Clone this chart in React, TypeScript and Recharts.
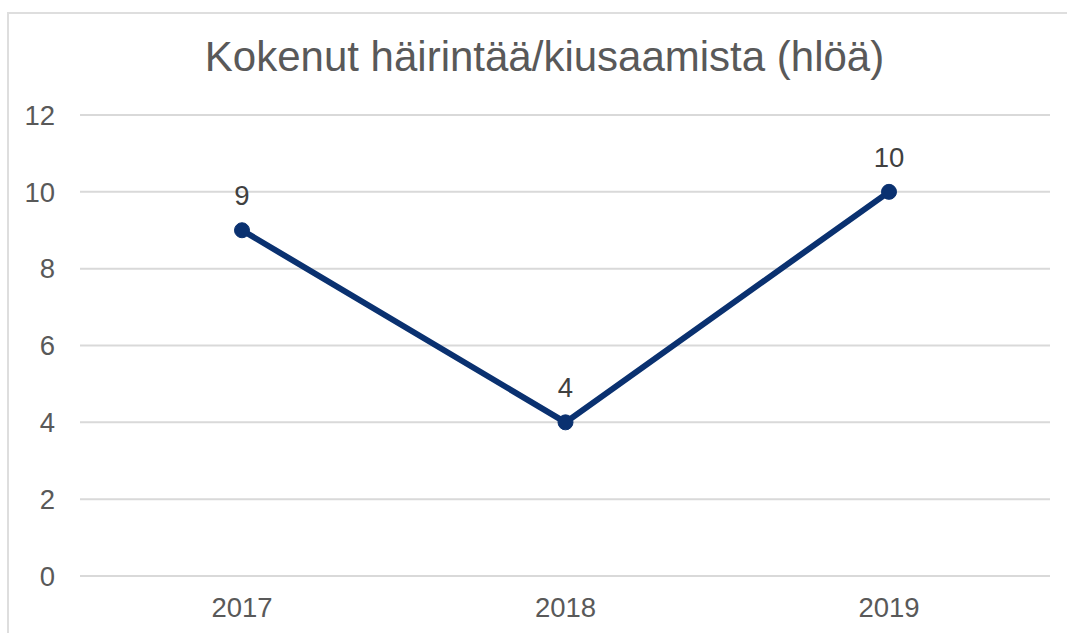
import { LineChart, Line, XAxis, YAxis, CartesianGrid, LabelList } from "recharts";

const years = ["2017", "2018", "2019"];
const counts = [9, 4, 10];
const yTicks = [0, 2, 4, 6, 8, 10, 12];

const data = years.map((year, i) => ({ year, count: counts[i] }));

const font = "'Liberation Sans', Arial, sans-serif";
const navy = "#0a3170";

export default function App() {
  return (
    <div style={{ position: "absolute", left: 0, top: 0, width: 1067, height: 633, overflow: "hidden", background: "#fff", fontFamily: font }}>
      <div style={{ position: "absolute", left: 7, top: 12, width: 1100, height: 700, border: "2px solid #dedede" }} />
      <div
        style={{
          position: "absolute",
          left: 11,
          top: 36,
          width: 1067,
          textAlign: "center",
          fontSize: 42,
          lineHeight: "42px",
          color: "#595959",
          whiteSpace: "nowrap",
        }}
      >
        Kokenut häirintää/kiusaamista (hlöä)
      </div>
      <div style={{ position: "absolute", left: 0, top: 0 }}>
        <LineChart width={1067} height={633} data={data} margin={{ top: 115, right: 17, bottom: 27, left: 0 }}>
          <CartesianGrid stroke="#d9d9d9" strokeWidth={2} vertical={false} />
          <XAxis
            dataKey="year"
            height={30}
            padding={{ left: 162, right: 161 }}
            axisLine={false}
            tickLine={false}
            tickSize={0}
            tickMargin={21}
            tick={{ fontSize: 27.5, fill: "#595959", fontFamily: font }}
          />
          <YAxis
            width={80}
            domain={[0, 12]}
            ticks={yTicks}
            axisLine={false}
            tickLine={false}
            tickSize={0}
            tickMargin={25}
            tick={{ fontSize: 27.5, fill: "#595959", fontFamily: font }}
          />
          <Line
            type="linear"
            dataKey="count"
            stroke={navy}
            strokeWidth={6}
            dot={{ r: 7.5, fill: navy, stroke: navy, strokeWidth: 1 }}
            isAnimationActive={false}
          >
            <LabelList dataKey="count" position="top" offset={25} style={{ fontSize: 27.5, fill: "#404040", fontFamily: font }} />
          </Line>
        </LineChart>
      </div>
    </div>
  );
}
